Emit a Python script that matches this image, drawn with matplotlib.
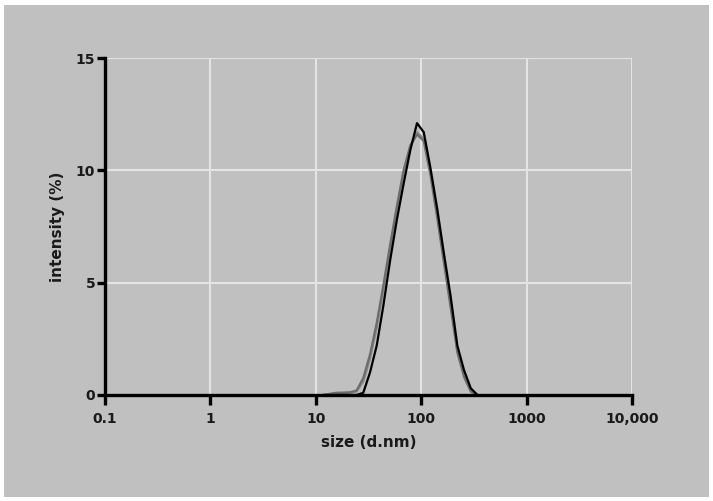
import matplotlib
matplotlib.use("Agg")
import matplotlib.pyplot as plt
from matplotlib.patches import Rectangle
from matplotlib.ticker import FixedLocator, FixedFormatter, NullLocator

# size bins (d.nm) and intensity (%) for the three runs
sizes = [11.70, 13.54, 15.69, 18.17, 21.04, 24.36, 28.21, 32.67, 37.84, 43.82,
         50.75, 58.77, 68.06, 78.82, 91.28, 105.7, 122.4, 141.8, 164.2, 190.1,
         220.2, 255.0, 295.3, 342.0]
run_gray1 = [0, 0.05, 0.10, 0.10, 0.12, 0.20, 0.75, 1.8, 3.2, 4.9,
             6.7, 8.4, 10.0, 11.1, 11.6, 11.3, 9.8, 7.9, 5.9, 3.9,
             1.9, 0.8, 0.15, 0]
run_gray2 = [0, 0.04, 0.08, 0.10, 0.10, 0.15, 0.6, 1.6, 3.0, 4.7,
             6.5, 8.3, 9.9, 11.1, 11.7, 11.4, 9.9, 8.0, 6.0, 4.1,
             2.0, 0.9, 0.2, 0]
run_black = [0, 0, 0, 0, 0, 0, 0.1, 1.0, 2.2, 4.0,
             6.0, 7.8, 9.4, 10.9, 12.1, 11.7, 10.1, 8.3, 6.3, 4.4,
             2.2, 1.1, 0.3, 0]

x_ticks = [0.1, 1, 10, 100, 1000, 10000]
x_tick_labels = ["0.1", "1", "10", "100", "1000", "10,000"]
y_ticks = [0, 5, 10, 15]

panel = "#c0c0c0"
grid_col = "#e4e4e4"
text_col = "#1a1a1a"

fig = plt.figure(figsize=(7.13, 5.01), dpi=100, facecolor="white")
fig.patches.append(Rectangle((4 / 713, 4 / 501), 705 / 713, 492 / 501,
                             transform=fig.transFigure, facecolor=panel,
                             edgecolor="none", zorder=-10))

ax = fig.add_axes([105 / 713, 106 / 501, 527 / 713, 337 / 501])
ax.set_facecolor(panel)
ax.set_xscale("log")
ax.set_xlim(0.1, 10000)
ax.set_ylim(0, 15)

ax.plot(sizes, run_gray2, color="#8c8c8c", lw=1.6, zorder=3)
ax.plot(sizes, run_gray1, color="#6c6c6c", lw=1.6, zorder=3)
ax.plot(sizes, run_black, color="black", lw=1.6, zorder=4)

ax.xaxis.set_major_locator(FixedLocator(x_ticks))
ax.xaxis.set_major_formatter(FixedFormatter(x_tick_labels))
ax.xaxis.set_minor_locator(NullLocator())
ax.yaxis.set_major_locator(FixedLocator(y_ticks))

ax.grid(True, color=grid_col, lw=1.5, zorder=1)
ax.set_axisbelow(True)

for side in ("top", "right"):
    ax.spines[side].set_visible(False)
for side in ("left", "bottom"):
    ax.spines[side].set_linewidth(2.4)
    ax.spines[side].set_color("black")
    ax.spines[side].set_zorder(5)

ax.tick_params(axis="both", direction="out", length=7, width=2.4,
               color="black", labelcolor=text_col, labelsize=10)
ax.tick_params(axis="x", pad=5)
ax.tick_params(axis="y", pad=1, length=6)
for lab in ax.get_xticklabels() + ax.get_yticklabels():
    lab.set_fontweight("bold")

ax.set_xlabel("size (d.nm)", fontsize=11, fontweight="bold", color=text_col, labelpad=7)
ax.set_ylabel("intensity (%)", fontsize=11, fontweight="bold", color=text_col, labelpad=8)

fig.savefig("out.png", dpi=100, facecolor="white")
